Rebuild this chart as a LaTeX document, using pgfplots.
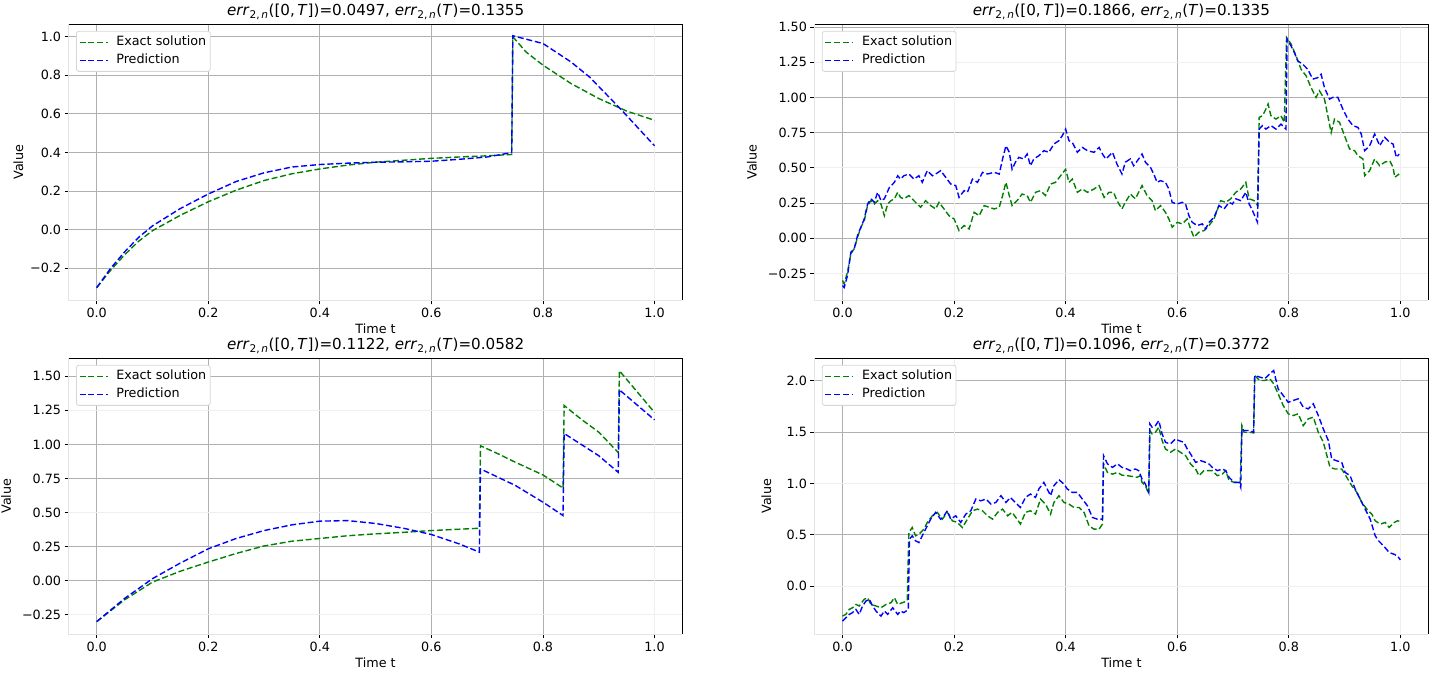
\documentclass[border=0pt]{standalone}
\usepackage{fontspec}
\setmainfont{DejaVu Sans}
\usepackage{pgfplots}
\pgfplotsset{compat=1.18}
\definecolor{mplgreen}{HTML}{008000}
\definecolor{mplblue}{HTML}{0000FF}
\definecolor{gridgray}{HTML}{B0B0B0}
\definecolor{faintgray}{HTML}{EFEFEF}
\definecolor{spinegray}{HTML}{E4E4E4}
\definecolor{legendgray}{HTML}{D6D6D6}
\newcommand\fs{\fontsize{12.8}{15}\selectfont}
\newcommand\spines{%
  \draw[spinegray, line width=1pt] (rel axis cs:0,1) -- (rel axis cs:0,0) -- (rel axis cs:1,0);
  \draw[black, line width=1pt] (rel axis cs:0,1) -- (rel axis cs:1,1) -- (rel axis cs:1,0);}
\newcommand\err{\textit{err}\textsubscript{2,\,\textit{n}}}
\pgfplotsset{
  gline/.style={color=mplgreen, draw=mplgreen, line width=1.4pt, dash pattern=on 6pt off 2.8pt},
  bline/.style={color=mplblue, draw=mplblue, line width=1.4pt, dash pattern=on 6pt off 2.8pt},
  panel/.style={
    scale only axis, width=613.6bp, height=276bp,
    anchor=south west,
    xmin=-0.05, xmax=1.05,
    clip mode=individual,
    axis line style={draw=none},
    grid=major,
    grid style={color=gridgray, line width=0.9pt},
    tick align=outside,
    major tick length=4.2pt,
    tick style={black, line width=0.9pt},
    xtick pos=left, ytick pos=left,
    ticklabel style={font=\fs},
    label style={font=\fs},
    xlabel={Time t}, ylabel={Value},
    xlabel style={at={(axis description cs:0.5,0)}, anchor=center, yshift=-28.5bp},
    title style={font=\fontsize{15.2}{18}\selectfont, at={(0.5,1)}, anchor=base, yshift=3bp},
    xtick={0,0.2,0.4,0.6,0.8},
    xticklabels={0.0,0.2,0.4,0.6,0.8},
    extra x ticks={1.0}, extra x tick labels={1.0},
    extra tick style={grid=major, grid style={color=faintgray, line width=0.9pt}},
    legend style={at={(0,1)}, anchor=north west, xshift=7.2bp, yshift=-6.7bp,
      draw=legendgray, line width=0.8pt, fill=white,
      rounded corners=2.5pt, inner xsep=2.5bp, inner ysep=3.4bp, font=\fs,
      row sep=2.7bp, column sep=6.5bp},
    legend cell align=left,
    every axis legend/.append style={nodes={inner sep=1.5bp, text height=9.4bp, text depth=2.9bp}},
    legend image code/.code={\draw[#1, line cap=butt, rounded corners=0pt] (0bp,0bp) -- (28bp,0bp);},
  },
}
\begin{document}
\begin{tikzpicture}
\useasboundingbox (0,0) rectangle (1433bp,675bp);
% ---------------- top left
\begin{axis}[panel, at={(68.8bp,374.8bp)},
  ymin=-0.365, ymax=1.065,
  ytick={-0.2,0,0.2,0.4,0.6,0.8,1.0},
  yticklabels={−0.2,0.0,0.2,0.4,0.6,0.8,1.0},
  title={\err([0,\,\textit{T}])=0.0497, \err(\textit{T})=0.1355}]
\addplot[gline] coordinates {(0,-0.30) (0.025,-0.21) (0.05,-0.13) (0.075,-0.06) (0.1,-0.005) (0.15,0.075) (0.2,0.145) (0.25,0.205) (0.3,0.255) (0.35,0.29) (0.4,0.315) (0.45,0.335) (0.5,0.35) (0.55,0.36) (0.6,0.37) (0.65,0.377) (0.7,0.383) (0.744,0.39) (0.746,1.0) (0.77,0.92) (0.8,0.853) (0.85,0.758) (0.9,0.68) (0.95,0.615) (1.0,0.567)};
\addlegendentry{Exact solution}
\addplot[bline] coordinates {(0,-0.30) (0.025,-0.20) (0.05,-0.115) (0.075,-0.04) (0.1,0.02) (0.15,0.11) (0.2,0.185) (0.25,0.25) (0.3,0.295) (0.35,0.325) (0.4,0.338) (0.45,0.345) (0.5,0.35) (0.55,0.352) (0.6,0.355) (0.65,0.365) (0.7,0.377) (0.744,0.40) (0.746,1.005) (0.8,0.965) (0.85,0.87) (0.884,0.79) (0.94,0.623) (1.0,0.435)};
\addlegendentry{Prediction}
\spines
\end{axis}
% ---------------- top right
\begin{axis}[panel, at={(814.6bp,374.8bp)},
  ymin=-0.44, ymax=1.52,
  xtick={0,0.4,0.6,0.8}, xticklabels={0.0,0.4,0.6,0.8},
  extra x ticks={0.2,1.0}, extra x tick labels={0.2,1.0},
  ytick={0,0.25,0.75,1.0,1.5},
  yticklabels={0.00,0.25,0.75,1.00,1.50},
  extra y ticks={-0.25,0.5,1.25}, extra y tick labels={−0.25,0.50,1.25},
  title={\err([0,\,\textit{T}])=0.1866, \err(\textit{T})=0.1335}]
\addplot[gline] coordinates {(0,-0.30) (0.003,-0.324) (0.009,-0.24) (0.015,-0.11) (0.021,-0.075) (0.027,0.007) (0.033,0.078) (0.039,0.125) (0.045,0.232) (0.051,0.267) (0.057,0.243) (0.063,0.267) (0.069,0.243) (0.075,0.16) (0.081,0.243) (0.087,0.267) (0.093,0.28) (0.099,0.326) (0.104,0.29) (0.110,0.28) (0.119,0.303) (0.128,0.267) (0.134,0.243) (0.140,0.22) (0.149,0.267) (0.158,0.232) (0.167,0.208) (0.173,0.255) (0.182,0.208) (0.191,0.16) (0.200,0.137) (0.209,0.054) (0.218,0.09) (0.227,0.066) (0.236,0.184) (0.245,0.16) (0.254,0.232) (0.263,0.22) (0.272,0.208) (0.281,0.22) (0.287,0.303) (0.293,0.397) (0.299,0.303) (0.304,0.232) (0.313,0.267) (0.322,0.314) (0.331,0.303) (0.337,0.255) (0.346,0.326) (0.355,0.338) (0.364,0.303) (0.373,0.385) (0.382,0.397) (0.391,0.444) (0.400,0.49) (0.406,0.397) (0.412,0.42) (0.421,0.326) (0.430,0.35) (0.439,0.326) (0.451,0.35) (0.460,0.374) (0.469,0.29) (0.478,0.326) (0.486,0.326) (0.492,0.267) (0.501,0.208) (0.507,0.255) (0.516,0.314) (0.525,0.28) (0.537,0.374) (0.546,0.303) (0.555,0.267) (0.561,0.196) (0.570,0.232) (0.579,0.184) (0.585,0.137) (0.591,0.078) (0.600,0.113) (0.609,0.102) (0.618,0.137) (0.624,0.066) (0.630,0.007) (0.639,0.043) (0.648,0.054) (0.657,0.09) (0.666,0.137) (0.678,0.267) (0.687,0.255) (0.696,0.28) (0.705,0.326) (0.714,0.35) (0.723,0.397) (0.729,0.28) (0.738,0.267) (0.744,0.232) (0.747,0.858) (0.753,0.87) (0.759,0.917) (0.763,0.953) (0.768,0.87) (0.777,0.846) (0.786,0.87) (0.792,0.823) (0.796,1.426) (0.804,1.38) (0.813,1.296) (0.822,1.20) (0.831,1.154) (0.840,1.07) (0.849,1.0) (0.855,1.047) (0.864,0.988) (0.870,0.87) (0.876,0.75) (0.882,0.846) (0.891,0.823) (0.900,0.728) (0.909,0.634) (0.918,0.622) (0.924,0.586) (0.933,0.563) (0.936,0.444) (0.945,0.48) (0.954,0.563) (0.963,0.515) (0.972,0.54) (0.981,0.55) (0.987,0.504) (0.990,0.433) (0.998,0.456)};
\addlegendentry{Exact solution}
\addplot[bline] coordinates {(0,-0.336) (0.003,-0.35) (0.009,-0.265) (0.015,-0.10) (0.021,-0.075) (0.027,0.02) (0.033,0.078) (0.039,0.137) (0.045,0.243) (0.051,0.28) (0.057,0.255) (0.063,0.326) (0.069,0.267) (0.075,0.28) (0.084,0.36) (0.093,0.397) (0.099,0.444) (0.104,0.42) (0.110,0.444) (0.119,0.456) (0.128,0.42) (0.137,0.444) (0.143,0.397) (0.152,0.48) (0.161,0.444) (0.167,0.456) (0.176,0.48) (0.185,0.433) (0.194,0.385) (0.203,0.374) (0.209,0.29) (0.218,0.338) (0.224,0.326) (0.233,0.42) (0.242,0.397) (0.251,0.468) (0.260,0.456) (0.272,0.468) (0.281,0.456) (0.287,0.563) (0.293,0.657) (0.299,0.61) (0.304,0.49) (0.310,0.54) (0.316,0.574) (0.325,0.563) (0.331,0.598) (0.337,0.515) (0.343,0.563) (0.352,0.586) (0.361,0.622) (0.370,0.61) (0.379,0.669) (0.388,0.693) (0.394,0.728) (0.400,0.775) (0.406,0.693) (0.412,0.68) (0.421,0.61) (0.430,0.645) (0.439,0.622) (0.451,0.61) (0.460,0.645) (0.466,0.598) (0.472,0.563) (0.478,0.586) (0.484,0.61) (0.492,0.527) (0.501,0.456) (0.507,0.54) (0.516,0.563) (0.522,0.515) (0.531,0.563) (0.537,0.598) (0.543,0.54) (0.552,0.504) (0.558,0.456) (0.564,0.397) (0.570,0.409) (0.579,0.397) (0.585,0.35) (0.591,0.255) (0.600,0.243) (0.609,0.255) (0.615,0.243) (0.621,0.16) (0.627,0.113) (0.636,0.09) (0.645,0.102) (0.651,0.066) (0.657,0.113) (0.666,0.149) (0.675,0.232) (0.684,0.208) (0.693,0.255) (0.699,0.243) (0.705,0.28) (0.714,0.267) (0.723,0.326) (0.729,0.243) (0.735,0.196) (0.744,0.113) (0.747,0.775) (0.753,0.80) (0.759,0.775) (0.768,0.80) (0.777,0.775) (0.786,0.81) (0.795,0.775) (0.797,1.414) (0.804,1.366) (0.810,1.319) (0.816,1.26) (0.825,1.236) (0.834,1.20) (0.843,1.13) (0.852,1.14) (0.858,1.165) (0.864,1.07) (0.873,0.988) (0.879,1.0) (0.888,1.0) (0.897,0.917) (0.906,0.846) (0.915,0.80) (0.924,0.787) (0.930,0.74) (0.936,0.622) (0.945,0.657) (0.954,0.74) (0.963,0.657) (0.972,0.716) (0.981,0.68) (0.987,0.669) (0.993,0.574) (0.998,0.598)};
\addlegendentry{Prediction}
\spines
\end{axis}
% ---------------- bottom left
\begin{axis}[panel, at={(68.8bp,40.8bp)},
  ymin=-0.392, ymax=1.632,
  ytick={0,0.25,0.75,1.0,1.5},
  yticklabels={0.00,0.25,0.75,1.00,1.50},
  extra y ticks={-0.25,0.5,1.25}, extra y tick labels={−0.25,0.50,1.25},
  title={\err([0,\,\textit{T}])=0.1122, \err(\textit{T})=0.0582}]
\addplot[gline] coordinates {(0,-0.30) (0.05,-0.14) (0.1,-0.01) (0.15,0.07) (0.2,0.137) (0.25,0.2) (0.3,0.255) (0.35,0.29) (0.4,0.31) (0.45,0.33) (0.5,0.344) (0.55,0.355) (0.6,0.368) (0.686,0.385) (0.688,0.99) (0.72,0.93) (0.75,0.87) (0.8,0.776) (0.836,0.68) (0.838,1.285) (0.87,1.18) (0.9,1.09) (0.935,0.94) (0.937,1.54) (0.97,1.38) (1.0,1.234)};
\addlegendentry{Exact solution}
\addplot[bline] coordinates {(0,-0.30) (0.05,-0.13) (0.1,0.015) (0.15,0.13) (0.2,0.234) (0.25,0.31) (0.3,0.368) (0.35,0.41) (0.4,0.437) (0.45,0.441) (0.5,0.42) (0.55,0.385) (0.6,0.339) (0.65,0.27) (0.686,0.21) (0.688,0.82) (0.75,0.70) (0.8,0.576) (0.836,0.478) (0.838,1.08) (0.9,0.917) (0.935,0.795) (0.937,1.40) (1.0,1.18)};
\addlegendentry{Prediction}
\spines
\end{axis}
% ---------------- bottom right
\begin{axis}[panel, at={(814.6bp,40.8bp)},
  ymin=-0.47, ymax=2.22,
  xtick={0,0.4,0.6,0.8}, xticklabels={0.0,0.4,0.6,0.8},
  extra x ticks={0.2,1.0}, extra x tick labels={0.2,1.0},
  ytick={0.5,1.5,2.0}, yticklabels={0.5,1.5,2.0},
  extra y ticks={0,1.0}, extra y tick labels={0.0,1.0},
  title={\err([0,\,\textit{T}])=0.1096, \err(\textit{T})=0.3772}]
\addplot[gline] coordinates {(0,-0.293) (0.006,-0.277) (0.012,-0.228) (0.018,-0.212) (0.024,-0.18) (0.030,-0.195) (0.039,-0.13) (0.045,-0.114) (0.051,-0.18) (0.060,-0.195) (0.069,-0.212) (0.078,-0.18) (0.087,-0.163) (0.093,-0.114) (0.099,-0.18) (0.107,-0.163) (0.116,-0.147) (0.119,0.521) (0.125,0.57) (0.131,0.489) (0.137,0.505) (0.146,0.554) (0.152,0.619) (0.161,0.684) (0.170,0.717) (0.179,0.651) (0.188,0.717) (0.197,0.635) (0.206,0.619) (0.215,0.57) (0.224,0.651) (0.233,0.733) (0.242,0.749) (0.251,0.733) (0.260,0.684) (0.269,0.651) (0.278,0.717) (0.287,0.749) (0.296,0.684) (0.304,0.717) (0.313,0.651) (0.319,0.603) (0.328,0.717) (0.337,0.733) (0.346,0.70) (0.355,0.847) (0.364,0.798) (0.373,0.70) (0.379,0.814) (0.388,0.88) (0.397,0.814) (0.406,0.798) (0.415,0.765) (0.424,0.765) (0.433,0.717) (0.442,0.586) (0.451,0.554) (0.460,0.554) (0.466,0.603) (0.468,1.19) (0.475,1.107) (0.484,1.09) (0.493,1.107) (0.501,1.08) (0.510,1.075) (0.519,1.068) (0.528,1.059) (0.534,1.075) (0.537,1.01) (0.543,0.977) (0.549,0.896) (0.551,1.515) (0.555,1.482) (0.561,1.498) (0.567,1.547) (0.573,1.417) (0.579,1.335) (0.588,1.303) (0.597,1.335) (0.606,1.303) (0.615,1.27) (0.624,1.189) (0.633,1.14) (0.639,1.075) (0.648,1.124) (0.657,1.124) (0.663,1.124) (0.672,1.075) (0.681,1.091) (0.687,1.124) (0.693,1.026) (0.702,1.01) (0.713,1.01) (0.716,1.563) (0.720,1.498) (0.730,1.498) (0.737,1.492) (0.739,2.05) (0.748,2.003) (0.757,2.003) (0.766,2.02) (0.773,1.97) (0.781,1.873) (0.790,1.759) (0.799,1.678) (0.808,1.661) (0.817,1.678) (0.826,1.563) (0.835,1.629) (0.844,1.645) (0.853,1.498) (0.862,1.40) (0.874,1.156) (0.883,1.14) (0.895,1.14) (0.904,1.059) (0.913,0.977) (0.922,0.912) (0.931,0.814) (0.940,0.749) (0.949,0.70) (0.955,0.635) (0.964,0.603) (0.973,0.619) (0.980,0.57) (0.989,0.619) (0.995,0.635) (1.0,0.629)};
\addlegendentry{Exact solution}
\addplot[bline] coordinates {(0,-0.342) (0.006,-0.31) (0.012,-0.277) (0.018,-0.26) (0.024,-0.228) (0.030,-0.277) (0.036,-0.195) (0.042,-0.147) (0.048,-0.13) (0.054,-0.195) (0.060,-0.244) (0.069,-0.293) (0.075,-0.244) (0.081,-0.277) (0.090,-0.212) (0.099,-0.277) (0.104,-0.244) (0.110,-0.26) (0.118,-0.228) (0.120,0.456) (0.125,0.489) (0.131,0.44) (0.137,0.423) (0.143,0.489) (0.149,0.554) (0.158,0.651) (0.167,0.717) (0.176,0.651) (0.182,0.684) (0.188,0.733) (0.194,0.651) (0.203,0.684) (0.212,0.619) (0.221,0.70) (0.230,0.733) (0.239,0.847) (0.248,0.83) (0.257,0.847) (0.266,0.798) (0.275,0.814) (0.284,0.88) (0.293,0.814) (0.301,0.863) (0.310,0.814) (0.319,0.765) (0.328,0.863) (0.337,0.896) (0.346,0.863) (0.352,0.945) (0.361,1.01) (0.367,0.945) (0.373,0.88) (0.379,0.977) (0.388,1.036) (0.397,0.993) (0.403,0.945) (0.412,0.912) (0.421,0.912) (0.430,0.847) (0.439,0.782) (0.448,0.668) (0.457,0.651) (0.466,0.651) (0.468,1.27) (0.475,1.19) (0.484,1.156) (0.493,1.19) (0.501,1.156) (0.510,1.14) (0.516,1.124) (0.525,1.14) (0.531,1.124) (0.537,1.042) (0.543,0.993) (0.549,0.912) (0.551,1.58) (0.555,1.547) (0.561,1.563) (0.567,1.612) (0.573,1.482) (0.579,1.40) (0.588,1.384) (0.597,1.433) (0.603,1.417) (0.612,1.40) (0.618,1.335) (0.624,1.287) (0.633,1.205) (0.642,1.221) (0.651,1.205) (0.657,1.189) (0.663,1.156) (0.672,1.124) (0.681,1.14) (0.687,1.124) (0.693,1.059) (0.702,1.01) (0.711,1.01) (0.714,0.96) (0.716,1.53) (0.720,1.515) (0.730,1.515) (0.737,1.498) (0.739,2.05) (0.748,2.036) (0.757,2.02) (0.766,2.068) (0.773,2.10) (0.781,1.92) (0.790,1.857) (0.799,1.79) (0.808,1.808) (0.817,1.824) (0.826,1.743) (0.835,1.726) (0.844,1.775) (0.853,1.661) (0.862,1.53) (0.871,1.417) (0.877,1.238) (0.886,1.22) (0.895,1.205) (0.901,1.107) (0.910,1.075) (0.919,0.945) (0.928,0.847) (0.937,0.749) (0.946,0.651) (0.955,0.489) (0.961,0.44) (0.970,0.391) (0.980,0.326) (0.989,0.309) (0.995,0.293) (1.0,0.254)};
\addlegendentry{Prediction}
\spines
\end{axis}
\end{tikzpicture}
\end{document}
